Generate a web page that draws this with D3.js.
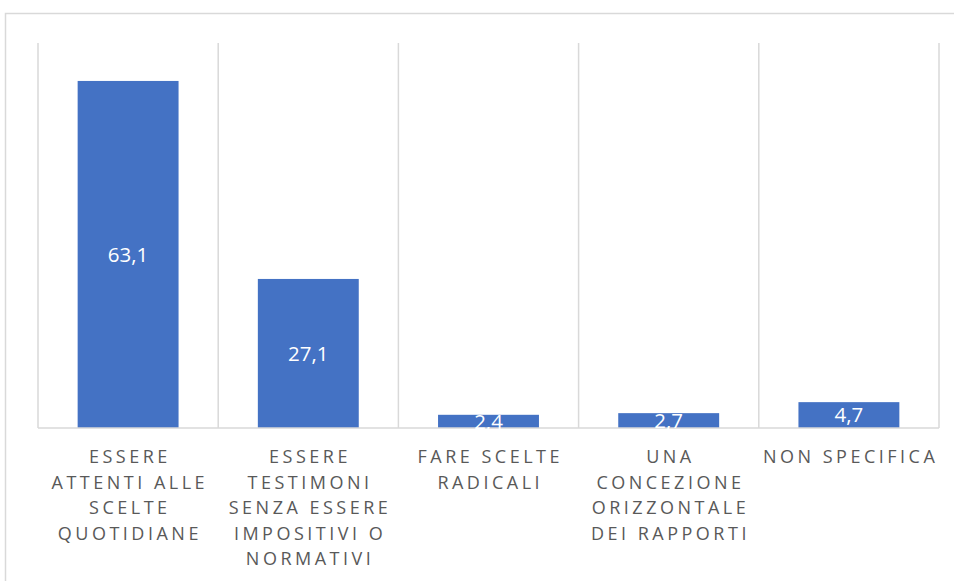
<!DOCTYPE html>
<html>
<head>
<meta charset="utf-8">
<script src="https://cdn.jsdelivr.net/npm/d3@7"></script>
<style>
  body { margin: 0; background: #fff; }
  svg { display: block; font-family: "Open Sans", sans-serif; }
</style>
</head>
<body>
<svg></svg>
<script>
var width = 954, height = 581;

// data
var categories = [
  'ESSERE\nATTENTI ALLE\nSCELTE\nQUOTIDIANE',
  'ESSERE\nTESTIMONI\nSENZA ESSERE\nIMPOSITIVI O\nNORMATIVI',
  'FARE SCELTE\nRADICALI',
  'UNA\nCONCEZIONE\nORIZZONTALE\nDEI RAPPORTI',
  'NON SPECIFICA'
];
var values = [63.1, 27.1, 2.4, 2.7, 4.7];
var valueLabels = ['63,1', '27,1', '2,4', '2,7', '4,7'];

var margin = { top: 43, right: 15, bottom: 153, left: 38 };
var innerWidth = width - margin.left - margin.right;
var innerHeight = height - margin.top - margin.bottom;

var svg = d3.select('svg')
    .attr('width', width)
    .attr('height', height);

// chart border: only top and left edges are inside the picture
svg.append('path')
    .attr('d', `M${width},13.5H5.5V${height}`)
    .attr('fill', 'none')
    .attr('stroke', '#d9d9d9')
    .attr('stroke-width', 1.5);

var g = svg.append('g')
    .attr('transform', `translate(${margin.left},${margin.top})`);

var x = d3.scaleBand()
    .domain(categories)
    .range([0, innerWidth])
    .paddingInner(0.44)
    .paddingOuter(0.22);

var y = d3.scaleLinear()
    .domain([0, 70])
    .range([innerHeight, 0]);

// vertical separators between categories
var step = x.step();
var seps = d3.range(categories.length + 1).map(i => i * step);
g.selectAll('line.sep').data(seps)
  .enter().append('line')
    .attr('class', 'sep')
    .attr('x1', d => d).attr('x2', d => d)
    .attr('y1', 0).attr('y2', innerHeight)
    .attr('stroke', '#d9d9d9')
    .attr('stroke-width', 1.5);

g.selectAll('rect.bar').data(values)
  .enter().append('rect')
    .attr('class', 'bar')
    .attr('x', (d, i) => x(categories[i]))
    .attr('y', d => y(d))
    .attr('width', x.bandwidth())
    .attr('height', d => innerHeight - y(d))
    .attr('fill', '#4472c4');

// baseline
g.append('line')
    .attr('x1', 0).attr('x2', innerWidth)
    .attr('y1', innerHeight).attr('y2', innerHeight)
    .attr('stroke', '#d9d9d9')
    .attr('stroke-width', 1.5);

g.selectAll('text.val').data(values)
  .enter().append('text')
    .attr('class', 'val')
    .attr('x', (d, i) => x(categories[i]) + x.bandwidth() / 2)
    .attr('y', d => (y(d) + innerHeight) / 2)
    .attr('dy', '0.36em')
    .attr('text-anchor', 'middle')
    .attr('font-size', 20.5)
    .attr('fill', '#fff')
    .text((d, i) => valueLabels[i]);

// category labels, one text per line
var lines = [];
categories.forEach(c => {
  c.split('\n').forEach((t, i) => lines.push({ cat: c, text: t, row: i }));
});

g.selectAll('text.cat').data(lines)
  .enter().append('text')
    .attr('class', 'cat')
    .attr('x', d => x(d.cat) + x.bandwidth() / 2 + 1.75)
    .attr('y', d => innerHeight + 35 + d.row * 25.6)
    .attr('text-anchor', 'middle')
    .attr('font-size', 18)
    .attr('letter-spacing', '3.5px')
    .attr('fill', '#595959')
    .text(d => d.text);
</script>
</body>
</html>
